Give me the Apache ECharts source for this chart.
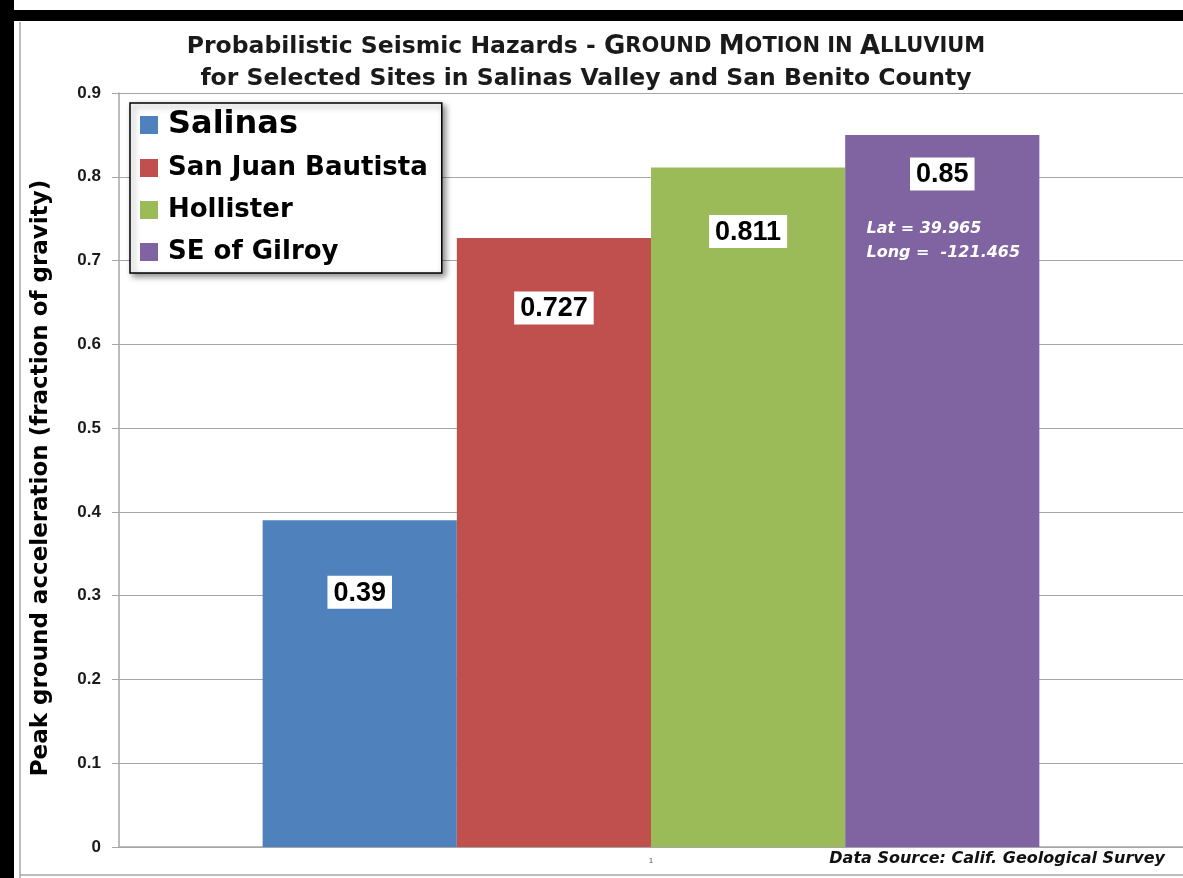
<!DOCTYPE html>
<html><head><meta charset="utf-8">
<script src="https://cdn.jsdelivr.net/npm/echarts@6/dist/echarts.min.js"></script>
<style>html,body{margin:0;padding:0;background:#fff}#c{width:1183px;height:878px}</style>
</head><body><div id="c"></div>
<script>
const categories = ['1'];
const siteNames = ['Salinas', 'San Juan Bautista', 'Hollister', 'SE of Gilroy'];
const siteValues = [0.39, 0.727, 0.811, 0.85];
const yTicks = [0, 0.1, 0.2, 0.3, 0.4, 0.5, 0.6, 0.7, 0.8, 0.9];
const gilroyNote = ['Lat = 39.965', 'Long =  -121.465'];

const colors = ['#4F81BD', '#C0504D', '#9BBB59', '#8064A2'];
const labelDist = [57, 55, 49, 24];
const FONT = '"Liberation Sans", Arial, sans-serif';
const WIDE = '"DejaVu Sans", Verdana, sans-serif';

const series = siteNames.map((n, i) => {
  const isLast = i === siteNames.length - 1;
  return {
    name: n, type: 'bar', data: [siteValues[i]],
    barGap: '0%', barCategoryGap: '27%',
    itemStyle: { color: colors[i] },
    label: {
      show: true, position: 'insideTop', distance: labelDist[i],
      formatter: isLast
        ? '{v|' + siteValues[i] + '}\n{gap|}\n{ll|' + gilroyNote[0] + '}\n{ll|' + gilroyNote[1] + '}'
        : '{v|' + siteValues[i] + '}',
      rich: {
        v: { backgroundColor: '#fff', color: '#000', fontFamily: FONT, fontWeight: 'bold', fontSize: 27, padding: [4, 6, 2, 6], lineHeight: 30, align: 'center' },
        gap: { height: 28, lineHeight: 28 },
        ll: { color: '#fff', fontFamily: WIDE, fontWeight: 'bold', fontStyle: 'italic', fontSize: 16, lineHeight: 24, align: 'left', padding: [0, 0, 0, 2] }
      }
    }
  };
});

const chart = echarts.init(document.getElementById('c'));
chart.setOption({
  animation: false,
  color: colors,
  title: {
    text: '{a|Probabilistic Seismic Hazards - }{b|G}{c|ROUND }{b|M}{c|OTION IN }{b|A}{c|LLUVIUM}\n{a|for Selected Sites in Salinas Valley and San Benito County}',
    left: 581, textAlign: 'center', top: 26,
    textStyle: {
      rich: {
        a: { fontFamily: WIDE, fontWeight: 'bold', fontSize: 23.5, color: '#1a1a1a', lineHeight: 32 },
        b: { fontFamily: WIDE, fontWeight: 'bold', fontSize: 26, color: '#1a1a1a', lineHeight: 32 },
        c: { fontFamily: WIDE, fontWeight: 'bold', fontSize: 21, color: '#1a1a1a', lineHeight: 32 }
      }
    }
  },
  legend: {
    orient: 'vertical', left: 130, top: 103,
    backgroundColor: '#fff', borderColor: '#000', borderWidth: 1.5,
    shadowColor: 'rgba(0,0,0,0.45)', shadowBlur: 6, shadowOffsetX: 3, shadowOffsetY: 3,
    padding: [6, 14, 6, 10], itemGap: 12, itemWidth: 18, itemHeight: 18, icon: 'rect',
    selectedMode: false,
    textStyle: { fontFamily: WIDE, fontWeight: 'bold', fontSize: 26, color: '#000', lineHeight: 30, padding: [0, 0, 0, 5] },
    data: siteNames.map((n, i) => i === 0
      ? { name: n, textStyle: { fontSize: 32, fontFamily: WIDE, fontWeight: 'bold', color: '#000', lineHeight: 30 } }
      : { name: n })
  },
  grid: { left: 119, right: 0, top: 93, bottom: 31, containLabel: false },
  xAxis: {
    type: 'category', data: categories,
    axisLine: { lineStyle: { color: '#a6a6a6', width: 1.5 } },
    axisTick: { show: false },
    axisLabel: { fontSize: 8, color: '#555', margin: 10, fontFamily: FONT }
  },
  yAxis: {
    type: 'value', min: 0, max: 0.9, interval: 0.1,
    name: 'Peak ground acceleration (fraction of gravity)',
    nameLocation: 'middle', nameGap: 66, nameRotate: 90,
    nameTextStyle: { fontFamily: WIDE, fontWeight: 'bold', fontSize: 23, color: '#000', padding: [0, 16, 0, 0] },
    axisLine: { show: true, lineStyle: { color: '#a6a6a6', width: 1.5 } },
    axisTick: { show: true, length: 7, lineStyle: { color: '#a6a6a6' } },
    splitLine: { lineStyle: { color: '#a6a6a6', width: 1.2 } },
    axisLabel: {
      fontFamily: FONT, fontWeight: 'bold', fontSize: 17, color: '#1a1a1a', margin: 18,
      formatter: v => { const t = yTicks.find(x => Math.abs(x - v) < 1e-9); return t === 0 ? '0' : (t !== undefined ? t.toFixed(1) : ''); }
    }
  },
  series: series,
  graphic: [
    { type: 'rect', shape: { x: 0, y: 0, width: 14, height: 878 }, style: { fill: '#000' }, z: 100 },
    { type: 'rect', shape: { x: 0, y: 10, width: 1183, height: 11 }, style: { fill: '#000' }, z: 100 },
    { type: 'line', shape: { x1: 20, y1: 22, x2: 20, y2: 878 }, style: { stroke: '#a6a6a6', lineWidth: 1.5 }, z: 100 },
    { type: 'line', shape: { x1: 20, y1: 875, x2: 1183, y2: 875 }, style: { stroke: '#a6a6a6', lineWidth: 1.5 }, z: 100 },
    { type: 'text', right: 18, top: 851, style: { text: 'Data Source: Calif. Geological Survey', font: 'italic bold 16px "DejaVu Sans", Verdana, sans-serif', fill: '#111' }, z: 100 }
  ]
});
</script></body></html>
